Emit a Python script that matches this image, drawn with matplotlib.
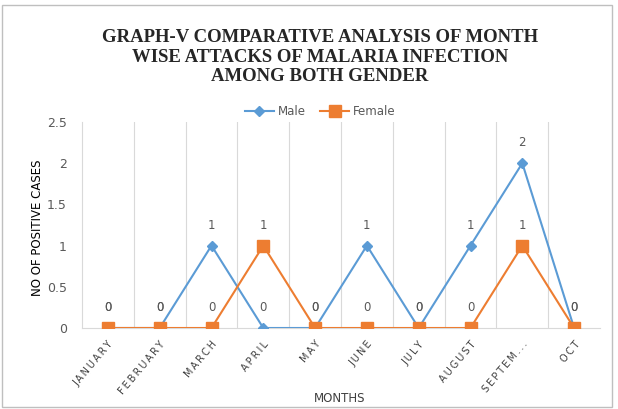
import matplotlib
matplotlib.use("Agg")
import matplotlib.pyplot as plt
from matplotlib.patches import Rectangle

months = ["JANUARY", "FEBRUARY", "MARCH", "APRIL", "MAY", "JUNE", "JULY", "AUGUST", "SEPTEM...", "OCT"]
male = [0, 0, 1, 0, 0, 1, 0, 1, 2, 0]
female = [0, 0, 0, 1, 0, 0, 0, 0, 1, 0]
yticks = [0, 0.5, 1, 1.5, 2, 2.5]
ytick_labels = ["0", "0.5", "1", "1.5", "2", "2.5"]

W, H = 618, 409
fig = plt.figure(figsize=(W / 100, H / 100), dpi=100)
ax = fig.add_axes([82 / W, 1 - 328 / H, (600 - 82) / W, (328 - 122) / H])

blue = "#5B9BD5"
orange = "#ED7D31"
x = list(range(len(months)))
ax.plot(x, male, color=blue, marker="D", markersize=5, lw=1.5, label="Male", zorder=3)
ax.plot(x, female, color=orange, marker="s", markersize=8, lw=1.5, label="Female", zorder=3)

for xi, v in zip(x, male):
    ax.annotate(str(v), (xi, v), xytext=(0, 10), textcoords="offset points",
                ha="center", va="bottom", fontsize=8.5, color="#595959")
for xi, v in zip(x, female):
    ax.annotate(str(v), (xi, v), xytext=(0, 10), textcoords="offset points",
                ha="center", va="bottom", fontsize=8.5, color="#595959")

ax.set_xlim(-0.5, len(months) - 0.5)
ax.set_ylim(0, 2.5)
ax.set_yticks(yticks)
ax.set_yticklabels(ytick_labels, fontsize=9, color="#595959")
ax.set_xticks(x)
ax.set_xticklabels(["\u2009".join(m) for m in months], rotation=50, ha="right",
                   rotation_mode="anchor", fontsize=7, color="#404040")
ax.tick_params(axis="y", length=0, pad=11)
ax.tick_params(axis="x", length=0, pad=8)
for b in [i + 0.5 for i in range(len(months) - 1)]:
    ax.axvline(b, color="#D9D9D9", lw=0.8, zorder=1)
for s in ["top", "right"]:
    ax.spines[s].set_visible(False)
ax.spines["left"].set_color("#D9D9D9")
ax.spines["bottom"].set_color("#D9D9D9")

fig.text(340 / W, 1 - 399 / H, "MONTHS", ha="center", va="center", fontsize=8.5, color="#404040")
fig.text(38 / W, 1 - 228 / H, "NO OF POSITIVE CASES", ha="center", va="center",
         rotation=90, fontsize=8.5, color="black")

fig.text(320 / W, 1 - 57 / H,
         "GRAPH-V COMPARATIVE ANALYSIS OF MONTH\nWISE ATTACKS OF MALARIA INFECTION\nAMONG BOTH GENDER",
         ha="center", va="center", fontsize=13.5, fontweight="bold",
         family="Liberation Serif", linespacing=1.2, color="#262626")

leg = fig.legend(loc="center", bbox_to_anchor=(320 / W, 1 - 112 / H), ncol=2, frameon=False,
                 fontsize=8.5, handlelength=2.5, columnspacing=1.2, handletextpad=0.3)
for t in leg.get_texts():
    t.set_color("#595959")

fig.patches.append(Rectangle((2 / W, 2 / H), 610 / W, 402 / H, transform=fig.transFigure,
                             fill=False, edgecolor="#BFBFBF", lw=1))
fig.savefig("out.png", dpi=100)
